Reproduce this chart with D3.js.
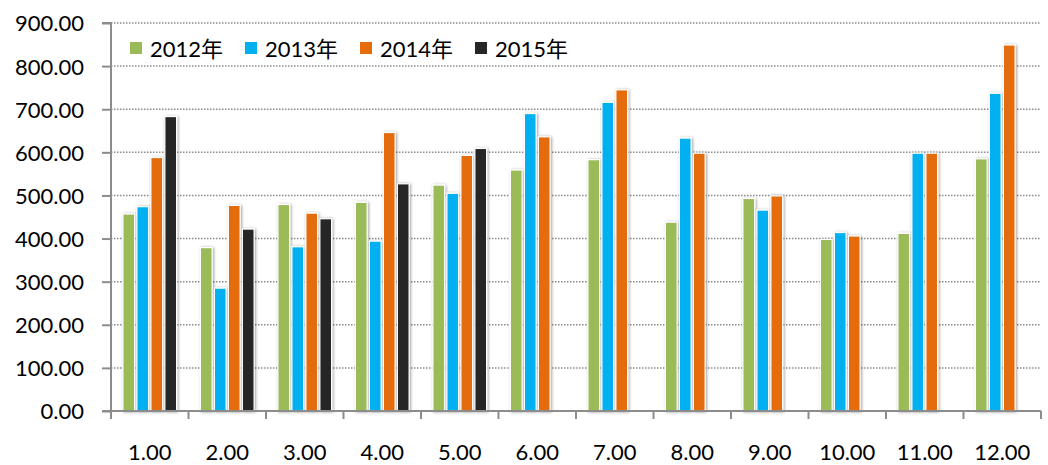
<!DOCTYPE html>
<html><head><meta charset="utf-8">
<script src="https://cdn.jsdelivr.net/npm/d3@7"></script>
<style>
body{margin:0;background:#fff;}
text{font-family:Lato,"Noto Sans CJK SC",sans-serif;fill:#000;}
</style></head>
<body><svg id="c" width="1048" height="465"></svg>
<script>
const months = ["1.00","2.00","3.00","4.00","5.00","6.00","7.00","8.00","9.00","10.00","11.00","12.00"];
const seriesNames = ["2012年","2013年","2014年","2015年"];
const colors = ["#9BBB59","#00B0F0","#E46C0A","#262626"];
const v2012 = [457,379,479,484,524,559,583,438,493,398,412,585];
const v2013 = [474,285,381,394,505,690,716,633,466,414,598,737];
const v2014 = [588,477,459,646,593,636,745,598,499,406,598,849];
const v2015 = [683,422,446,527,609,null,null,null,null,null,null,null];
const yTicks = [0,100,200,300,400,500,600,700,800,900];

const values = [v2012,v2013,v2014,v2015];
const svg = d3.select("#c");
const L=111, R=1041, T=23, B=411;

const defs = svg.append("defs");
const f = defs.append("filter").attr("id","sh").attr("x","-50%").attr("y","-10%").attr("width","200%").attr("height","120%");
f.append("feDropShadow").attr("dx",1).attr("dy",0.5).attr("stdDeviation",1.8).attr("flood-color","#000").attr("flood-opacity",0.4);

const x0 = d3.scaleBand().domain(months).range([L,R]).paddingInner(0).paddingOuter(0);
const x1 = d3.scaleBand().domain(d3.range(4)).range([0,x0.bandwidth()]).paddingInner(0.16).paddingOuter(0.85);
const y = d3.scaleLinear().domain([0,900]).range([B,T]);

// gridlines
svg.append("g").selectAll("line").data(yTicks.filter(d=>d>0)).join("line")
  .attr("x1",L).attr("x2",R).attr("y1",d=>y(d)).attr("y2",d=>y(d))
  .attr("stroke","#8c8c8c").attr("stroke-width",1.5).attr("stroke-dasharray","1.5,1.5");

// bars
const g = svg.append("g");
months.forEach((m,i)=>{
  values.forEach((arr,s)=>{
    const v = arr[i];
    if(v==null) return;
    g.append("rect")
      .attr("x",x0(m)+x1(s)).attr("y",y(v))
      .attr("width",x1.bandwidth()).attr("height",y(0)-y(v))
      .attr("fill",colors[s]).attr("stroke","#fff").attr("stroke-width",1.2)
      .attr("filter","url(#sh)");
  });
});

// y axis
const yAxis = d3.axisLeft(y).tickValues(yTicks).tickSize(9).tickPadding(18).tickFormat(d=>d3.format(".2f")(d));
const ya = svg.append("g").attr("transform",`translate(${L},0)`).call(yAxis);
ya.select(".domain").attr("stroke","#8c8c8c").attr("stroke-width",2).attr("d",`M-9,${T}H0V${B}H-9`);
ya.selectAll(".tick line").attr("stroke","#8c8c8c").attr("stroke-width",2);
ya.selectAll("text").style("font-size","22px").attr("fill","#000").attr("dy","0.36em");

// x axis
const xa = svg.append("g").attr("transform",`translate(0,${B})`);
xa.append("line").attr("x1",L).attr("x2",R).attr("y1",0).attr("y2",0).attr("stroke","#8c8c8c").attr("stroke-width",2);
const bounds = months.map(m=>x0(m)).concat([R]);
xa.selectAll("line.t").data(bounds).join("line").attr("class","t")
  .attr("x1",d=>d).attr("x2",d=>d).attr("y1",0).attr("y2",8).attr("stroke","#8c8c8c").attr("stroke-width",2);
xa.selectAll("text").data(months).join("text")
  .attr("x",d=>x0(d)+x0.bandwidth()/2).attr("y",49).attr("text-anchor","middle")
  .style("font-size","22px").text(d=>d);

// legend
const lg = svg.append("g");
seriesNames.forEach((n,i)=>{
  const lx = 130 + i*115;
  lg.append("rect").attr("x",lx).attr("y",42).attr("width",12).attr("height",12).attr("fill",colors[i]);
  lg.append("text").attr("x",lx+20).attr("y",57).style("font-size","22px").text(n);
});
</script></body></html>
